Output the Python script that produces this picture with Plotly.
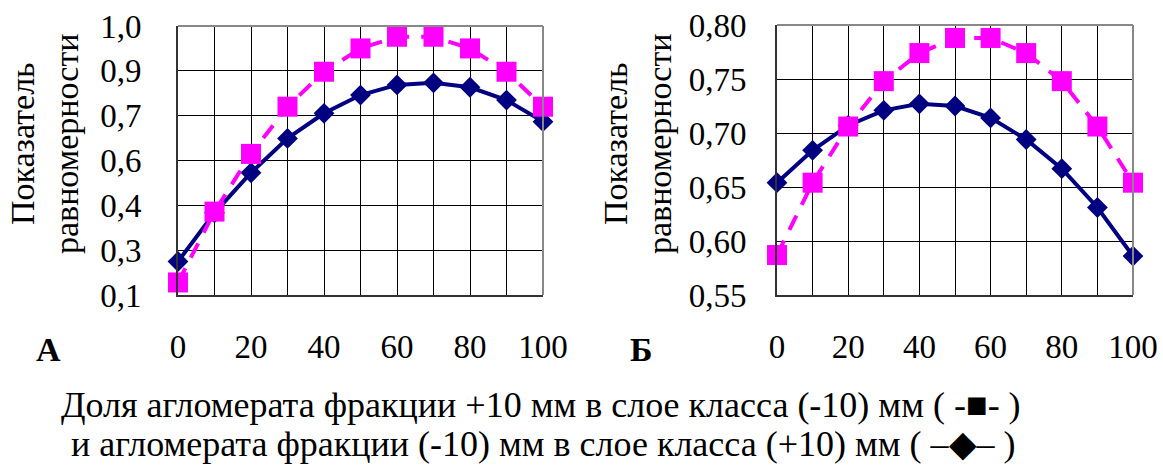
import plotly.graph_objects as go

# Share of +10 mm sinter fraction, %
share = [0, 10, 20, 30, 40, 50, 60, 70, 80, 90, 100]

# Panel А: uniformity index
a_square = [0.142, 0.379, 0.572, 0.730, 0.847, 0.925, 0.964, 0.964, 0.925, 0.847, 0.730]
a_diamond = [0.212, 0.375, 0.509, 0.624, 0.708, 0.769, 0.803, 0.810, 0.795, 0.752, 0.680]

# Panel Б: uniformity index
b_square = [0.587, 0.654, 0.706, 0.748, 0.774, 0.788, 0.788, 0.774, 0.748, 0.706, 0.654]
b_diamond = [0.654, 0.684, 0.707, 0.721, 0.727, 0.725, 0.714, 0.694, 0.667, 0.631, 0.586]

# Axis ticks
x_tickvals = [0, 10, 20, 30, 40, 50, 60, 70, 80, 90, 100]
x_ticktext = ["0", "", "20", "", "40", "", "60", "", "80", "", "100"]
a_tickvals = [0.10, 0.25, 0.40, 0.55, 0.70, 0.85, 1.00]
a_ticktext = ["0,1", "0,3", "0,4", "0,6", "0,7", "0,9", "1,0"]
b_tickvals = [0.55, 0.60, 0.65, 0.70, 0.75, 0.80]
b_ticktext = ["0,55", "0,60", "0,65", "0,70", "0,75", "0,80"]

W, H = 1163, 466
SERIF = "Liberation Serif"
NAVY = "#000080"
PINK = "#FF00FF"


def px(x):
    return x / W


def py(y):
    return 1 - y / H


fig = go.Figure()

for xa, ya, sq, di in [("x", "y", a_square, a_diamond), ("x2", "y2", b_square, b_diamond)]:
    fig.add_trace(go.Scatter(
        x=share, y=di, xaxis=xa, yaxis=ya, mode="lines+markers",
        line=dict(color=NAVY, width=4),
        marker=dict(symbol="diamond", size=16, color=NAVY),
        cliponaxis=False, showlegend=False,
    ))
    fig.add_trace(go.Scatter(
        x=share, y=sq, xaxis=xa, yaxis=ya, mode="lines+markers",
        line=dict(color=PINK, width=4, dash="16px,12px"),
        marker=dict(symbol="square", size=20, color=PINK),
        cliponaxis=False, showlegend=False,
    ))

axis_common = dict(
    showgrid=True, gridcolor="#000000", gridwidth=1, zeroline=False,
    showline=True, linecolor="#333333", linewidth=2, mirror=False,
    ticks="", tickfont=dict(family=SERIF, size=33, color="#000000"),
    tickmode="array", automargin=False,
)

left_dom_x = [px(178), px(543)]
right_dom_x = [px(777), px(1133)]

fig.update_layout(
    width=W, height=H,
    margin=dict(l=0, r=0, t=0, b=0, autoexpand=False),
    paper_bgcolor="white", plot_bgcolor="white",
    font=dict(family=SERIF),
    xaxis=dict(domain=left_dom_x, range=[0, 100], anchor="y",
               tickvals=x_tickvals, ticktext=x_ticktext, ticklabelstandoff=21, **axis_common),
    yaxis=dict(domain=[py(295), py(26)], range=[0.10, 1.00], anchor="x",
               tickvals=a_tickvals, ticktext=a_ticktext, ticklabelstandoff=28, **axis_common),
    xaxis2=dict(domain=right_dom_x, range=[0, 100], anchor="y2",
                tickvals=x_tickvals, ticktext=x_ticktext, ticklabelstandoff=21, **axis_common),
    yaxis2=dict(domain=[py(295), py(25)], range=[0.55, 0.80], anchor="x2",
                tickvals=b_tickvals, ticktext=b_ticktext, ticklabelstandoff=22, **axis_common),
)

# Light top and right frame edges
frame = dict(type="line", xref="paper", yref="paper", line=dict(color="#888888", width=2))
fig.add_shape(x0=left_dom_x[0], x1=left_dom_x[1], y0=py(26), y1=py(26), **frame)
fig.add_shape(x0=left_dom_x[1], x1=left_dom_x[1], y0=py(295), y1=py(26), **frame)
fig.add_shape(x0=right_dom_x[0], x1=right_dom_x[1], y0=py(25), y1=py(25), **frame)
fig.add_shape(x0=right_dom_x[1], x1=right_dom_x[1], y0=py(295), y1=py(25), **frame)

title_font = dict(family=SERIF, size=34, color="#000000")
for cx in (44, 637):
    fig.add_annotation(
        text="Показатель<br>равномерности", xref="paper", yref="paper",
        x=px(cx), y=py(144), xanchor="center", yanchor="middle",
        textangle=-90, showarrow=False, font=title_font,
    )

panel_font = dict(family=SERIF, size=34, color="#000000")
fig.add_annotation(text="<b>А</b>", xref="paper", yref="paper", x=px(48), y=py(349),
                   xanchor="center", yanchor="middle", showarrow=False, font=panel_font)
fig.add_annotation(text="<b>Б</b>", xref="paper", yref="paper", x=px(641), y=py(349),
                   xanchor="center", yanchor="middle", showarrow=False, font=panel_font)

caption_font = dict(family=SERIF, size=36, color="#000000")
fig.add_annotation(
    text="Доля агломерата фракции +10 мм в слое класса (-10) мм ( -■- )",
    xref="paper", yref="paper", x=px(541), y=py(405),
    xanchor="center", yanchor="middle", showarrow=False, font=caption_font,
)
fig.add_annotation(
    text="и агломерата фракции (-10) мм в слое класса (+10) мм ( –◆– )",
    xref="paper", yref="paper", x=px(543), y=py(444),
    xanchor="center", yanchor="middle", showarrow=False, font=caption_font,
)

fig.write_html("out.html")
